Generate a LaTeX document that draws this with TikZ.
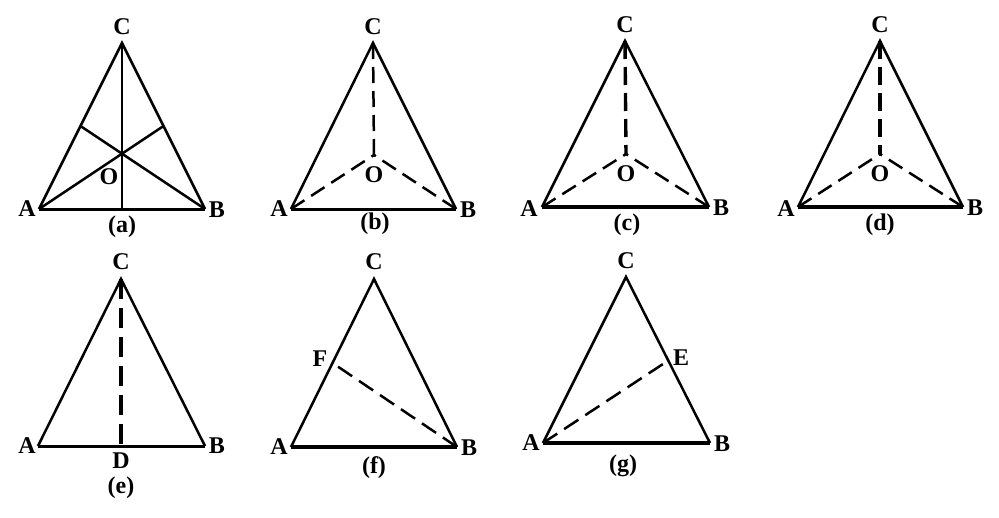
\documentclass[tikz,border=0pt]{standalone}
\usepackage{fontspec}
\setmainfont{Liberation Serif}
\begin{document}
\begin{tikzpicture}[x=1pt,y=-1pt,
  lbl/.style={font=\fontsize{24}{24}\selectfont\bfseries, inner sep=0pt},
  side/.style={line width=2.5pt},
  base/.style={line width=3pt},
  thickbase/.style={line width=3.8pt},
  med/.style={line width=2.5pt},
  dsh/.style={line width=2.5pt, dash pattern=on 16pt off 8pt},
  dshlong/.style={line width=2.5pt, dash pattern=on 17pt off 8.3pt},
  dshthick/.style={line width=3.4pt, dash pattern=on 18pt off 8pt},
  dshe/.style={line width=3.8pt, dash pattern=on 20pt off 9pt}]
\useasboundingbox (0,0) rectangle (999,517);
% ---------- (a)
\coordinate (aA) at (39,209); \coordinate (aB) at (205,209); \coordinate (aC) at (122,43);
\coordinate (aO) at (122,153); \coordinate (aD) at (122,209);
\coordinate (aM) at (80.5,126); \coordinate (aN) at (163.5,126);
\draw[side] (aA) -- (aC) -- (aB);
\draw[base] (aA) -- (aB);
\draw[med] (aC) -- (aD);
\draw[med] (aA) -- (aN);
\draw[med] (aB) -- (aM);
\node[lbl] (laC) at (122,27) {C};
\node[lbl] (laA) at (27,209) {A};
\node[lbl] (laB) at (217,210) {B};
\node[lbl] (laO) at (109,177) {O};
\node[lbl] (lacap) at (122,227) {(a)};
% ---------- (b)
\coordinate (bA) at (291,209); \coordinate (bB) at (456,209); \coordinate (bC) at (373,43);
\coordinate (bO) at (374,155);
\draw[side] (bA) -- (bC) -- (bB);
\draw[base] (bA) -- (bB);
\draw[dsh] (bC) -- (bO);
\draw[dsh] (bA) -- (bO);
\draw[dsh] (bB) -- (bO);
\node[lbl] (lbC) at (373,27) {C};
\node[lbl] (lbA) at (279,209) {A};
\node[lbl] (lbB) at (468,210) {B};
\node[lbl] (lbO) at (374,175) {O};
\node[lbl] (lbcap) at (375,224) {(b)};
% ---------- (c)
\coordinate (cA) at (542,207); \coordinate (cB) at (709,207); \coordinate (cC) at (625,41);
\coordinate (cO) at (626,154);
\draw[side] (cA) -- (cC) -- (cB);
\draw[thickbase] (cA) -- (cB);
\draw[dshthick] (cC) -- (cO);
\draw[dsh] (cA) -- (cO);
\draw[dsh] (cB) -- (cO);
\node[lbl] (lcC) at (625,25) {C};
\node[lbl] (lcA) at (529,209) {A};
\node[lbl] (lcB) at (721,208) {B};
\node[lbl] (lcO) at (626,174) {O};
\node[lbl] (lccap) at (627,225) {(c)};
% ---------- (d)
\coordinate (dA) at (798,207); \coordinate (dB) at (963,207); \coordinate (dC) at (880,41);
\coordinate (dO) at (880,154);
\draw[side] (dA) -- (dC) -- (dB);
\draw[thickbase] (dA) -- (dB);
\draw[dshthick] (dC) -- (dO);
\draw[dsh] (dA) -- (dO);
\draw[dsh] (dB) -- (dO);
\node[lbl] (ldC) at (880,25) {C};
\node[lbl] (ldA) at (786,209) {A};
\node[lbl] (ldB) at (975,208) {B};
\node[lbl] (ldO) at (880,174) {O};
\node[lbl] (ldcap) at (880,225) {(d)};
% ---------- (e)
\coordinate (eA) at (38,446); \coordinate (eB) at (205,446); \coordinate (eC) at (121,279);
\coordinate (eD) at (121,446);
\draw[side] (eA) -- (eC) -- (eB);
\draw[base] (eA) -- (eB);
\draw[dshe] (eC) -- (eD);
\node[lbl] (leC) at (121,262) {C};
\node[lbl] (leA) at (27,446) {A};
\node[lbl] (leB) at (217,446) {B};
\node[lbl] (leD) at (121,461) {D};
\node[lbl] (lecap) at (121,488) {(e)};
% ---------- (f)
\coordinate (fA) at (291,447); \coordinate (fB) at (457,447); \coordinate (fC) at (374,279);
\coordinate (fF) at (337,366);
\draw[side] (fA) -- (fC) -- (fB);
\draw[thickbase] (fA) -- (fB);
\draw[dshlong] (fB) -- (fF);
\node[lbl] (lfC) at (374,262) {C};
\node[lbl] (lfA) at (279,447) {A};
\node[lbl] (lfB) at (469,448) {B};
\node[lbl] (lfF) at (320,359) {F};
\node[lbl] (lfcap) at (374,468) {(f)};
% ---------- (g)
\coordinate (gA) at (543,443); \coordinate (gB) at (710,443); \coordinate (gC) at (626,277);
\coordinate (gE) at (663,364);
\draw[side] (gA) -- (gC) -- (gB);
\draw[thickbase] (gA) -- (gB);
\draw[dshlong] (gA) -- (gE);
\node[lbl] (lgC) at (626,261) {C};
\node[lbl] (lgA) at (531,443) {A};
\node[lbl] (lgB) at (722,444) {B};
\node[lbl] (lgE) at (681,358) {E};
\node[lbl] (lgcap) at (623,466) {(g)};
\end{tikzpicture}
\end{document}
